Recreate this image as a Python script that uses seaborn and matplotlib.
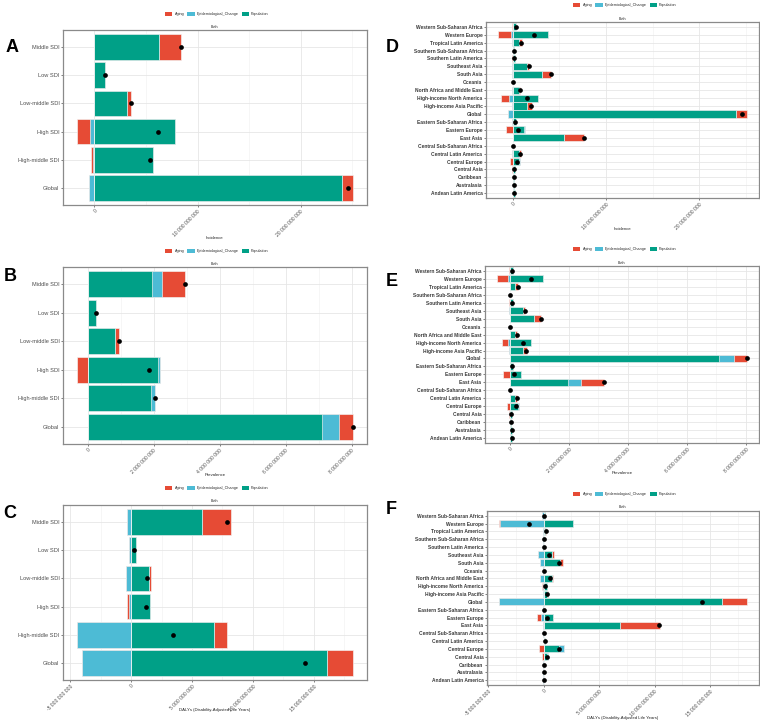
import numpy as np
import pandas as pd
import matplotlib
matplotlib.use("Agg")
import matplotlib.pyplot as plt
import seaborn as sns
from matplotlib.patches import Patch
from matplotlib.ticker import MultipleLocator, FuncFormatter

sns.set_theme(style="whitegrid")
plt.rcParams["font.family"] = ["Liberation Sans", "DejaVu Sans"]

UNIT = 1e9  # values below are given in billions

COMPONENTS = ["Aging", "Epidemiological_Change", "Population"]
COLORS = {"Aging": "#E64B35", "Epidemiological_Change": "#4DBBD5", "Population": "#00A087"}

# ---------------- categories (top to bottom) ----------------
SDI_LOCS = ["Middle SDI", "Low SDI", "Low-middle SDI", "High SDI", "High-middle SDI", "Global"]
REGIONS = ["Western Sub-Saharan Africa", "Western Europe", "Tropical Latin America",
           "Southern Sub-Saharan Africa", "Southern Latin America", "Southeast Asia",
           "South Asia", "Oceania", "North Africa and Middle East", "High-income North America",
           "High-income Asia Pacific", "Global", "Eastern Sub-Saharan Africa", "Eastern Europe",
           "East Asia", "Central Sub-Saharan Africa", "Central Latin America", "Central Europe",
           "Central Asia", "Caribbean", "Australasia", "Andean Latin America"]

# ---------------- A: Incidence, SDI ----------------
inc_sdi_pop = [6.23, 1.00, 3.13, 7.84, 5.68, 23.94]
inc_sdi_epi = [0.0, 0.0, 0.0, -0.39, -0.13, -0.55]
inc_sdi_aging = [2.16, 0.0, 0.45, -1.32, -0.16, 1.13]

# ---------------- B: Prevalence, SDI ----------------
prev_sdi_pop = [1.96, 0.26, 0.83, 2.13, 1.93, 7.11]
prev_sdi_epi = [0.30, 0.0, 0.0, 0.07, 0.10, 0.52]
prev_sdi_aging = [0.69, -0.005, 0.13, -0.33, 0.01, 0.42]

# ---------------- C: DALYs, SDI ----------------
daly_sdi_pop = [5.82, 0.44, 1.45, 1.58, 6.78, 16.07]
daly_sdi_epi = [-0.30, -0.16, -0.38, -0.19, -4.45, -3.99]
daly_sdi_aging = [2.38, 0.0, 0.22, -0.14, 1.12, 2.16]

# ---------------- D: Incidence, regions ----------------
inc_reg_pop = [0.39, 3.77, 0.71, 0.10, 0.25, 1.57, 3.13, 0.01, 0.64, 2.74, 1.57, 23.91,
               0.36, 1.25, 5.48, 0.08, 0.64, 0.71, 0.21, 0.12, 0.15, 0.20]
inc_reg_epi = [0.0, -0.21, -0.10, 0.0, 0.0, -0.04, -0.03, 0.0, -0.04, -0.43, -0.07, -0.53,
               -0.05, 0.05, 0.0, 0.0, -0.03, 0.07, 0.0, 0.0, 0.02, 0.0]
inc_reg_aging = [-0.06, -1.32, 0.28, 0.0, -0.07, 0.21, 0.96, 0.0, 0.18, -0.82, 0.46, 1.14,
                 -0.03, -0.75, 2.17, 0.0, 0.21, -0.28, -0.10, 0.02, 0.01, -0.02]

# ---------------- E: Prevalence, regions ----------------
prev_reg_pop = [0.10, 1.13, 0.19, 0.02, 0.09, 0.44, 0.81, 0.003, 0.18, 0.70, 0.43, 7.07,
                0.09, 0.37, 1.96, 0.02, 0.17, 0.26, 0.06, 0.05, 0.06, 0.06]
prev_reg_epi = [-0.01, -0.06, -0.01, 0.0, 0.0, -0.02, 0.0, 0.0, -0.01, -0.07, -0.02, 0.52,
                -0.01, 0.01, 0.44, 0.0, -0.01, 0.04, 0.0, -0.01, 0.0, 0.0]
prev_reg_aging = [-0.01, -0.36, 0.08, 0.0, -0.02, 0.08, 0.24, 0.0, 0.06, -0.20, 0.15, 0.43,
                  0.0, -0.24, 0.80, 0.0, 0.07, -0.08, -0.02, 0.0, 0.0, 0.0]

# ---------------- F: DALYs, regions ----------------
daly_reg_pop = [0.15, 2.66, 0.15, 0.03, 0.03, 0.75, 1.44, 0.01, 0.72, 0.27, 0.33, 16.11,
                0.05, 0.87, 6.86, 0.01, 0.15, 1.41, 0.33, 0.06, 0.03, 0.03]
daly_reg_epi = [-0.15, -3.89, -0.03, -0.03, -0.03, -0.48, -0.33, -0.01, -0.33, -0.09, -0.09, -3.98,
                -0.05, -0.27, -0.09, -0.01, 0.0, 0.39, 0.06, -0.03, -0.03, -0.03]
daly_reg_aging = [0.0, -0.09, 0.09, 0.0, 0.0, 0.21, 0.27, 0.0, 0.15, -0.06, 0.06, 2.19,
                  0.0, -0.33, 3.65, 0.0, 0.0, -0.42, -0.12, 0.0, 0.0, 0.0]

X_LABELS = {"inc": "Incidence", "prev": "Prevalence", "daly": "DALYs (Disability-Adjusted Life Years)"}

W, H = 760, 721
fig = plt.figure(figsize=(W / 100, H / 100), dpi=100)


def fmt(v, _):
    return f"{v:,.0f}".replace(",", " ")


def legend_x(x0):
    return 217 if x0 < 380 else 625


def panel(rect_px, letter, letter_xy, locs, pop, epi, aging, xlabel, step, legend_y, label_y,
          region=False):
    x0, y0, x1, y1 = rect_px
    ax = fig.add_axes([x0 / W, 1 - y1 / H, (x1 - x0) / W, (y1 - y0) / H])
    vals = {"Population": np.asarray(pop, float),
            "Epidemiological_Change": np.asarray(epi, float),
            "Aging": np.asarray(aging, float)}
    stack_order = ["Population", "Epidemiological_Change", "Aging"]
    cum_pos = np.cumsum([np.clip(vals[k], 0, None) for k in stack_order], axis=0)
    cum_neg = np.cumsum([np.clip(vals[k], None, 0) for k in stack_order], axis=0)
    total = sum(vals[k] for k in stack_order)

    # draw outermost cumulative bars first so inner segments sit on top
    for i in [2, 1, 0]:
        name = stack_order[i]
        for cum in (cum_pos[i], cum_neg[i]):
            df = pd.DataFrame({"location": locs, "value": cum * UNIT})
            sns.barplot(data=df, x="value", y="location", order=locs, orient="h",
                        color=COLORS[name], saturation=1, width=0.9, errorbar=None,
                        edgecolor="#f4f4f4", linewidth=0.45, ax=ax)
    dft = pd.DataFrame({"location": locs, "total": total * UNIT})
    sns.pointplot(data=dft, x="total", y="location", order=locs, orient="h", color="black",
                  errorbar=None, linestyle="none", markersize=3.4, markeredgewidth=0,
                  zorder=5, ax=ax)

    lo = min(cum_neg.min(), total.min(), 0)
    hi = max(cum_pos.max(), total.max(), 0)
    pad = 0.05 * (hi - lo)
    ax.set_xlim((lo - pad) * UNIT, (hi + pad) * UNIT)
    n = len(locs)
    ax.set_ylim(n - 0.4, -0.6)

    ax.xaxis.set_major_locator(MultipleLocator(step * UNIT))
    ax.xaxis.set_minor_locator(MultipleLocator(step / 2 * UNIT))
    ax.xaxis.set_major_formatter(FuncFormatter(fmt))
    ax.set_axisbelow(True)
    ax.grid(True, which="major", color="#e6e6e6", linewidth=0.6)
    ax.xaxis.grid(True, which="minor", color="#efefef", linewidth=0.4)
    ax.yaxis.grid(True, which="major", color="#e6e6e6", linewidth=0.6)
    for s in ax.spines.values():
        s.set_visible(True)
        s.set_color("#8a8a8a")
        s.set_linewidth(0.9)
    ax.tick_params(axis="both", which="major", bottom=True, left=True, length=1.6,
                   width=0.5, color="#4d4d4d", pad=1)
    ax.tick_params(axis="both", which="minor", length=0)
    ax.set_xlabel("")
    ax.set_ylabel("")
    for t in ax.get_xticklabels():
        t.set_rotation(45)
        t.set_ha("right")
        t.set_rotation_mode("anchor")
        t.set_fontsize(3.6)
        t.set_color("#4d4d4d")
    for t in ax.get_yticklabels():
        if region:
            t.set_fontsize(3.5)
            t.set_fontweight("bold")
            t.set_color("#3a3a3a")
        else:
            t.set_fontsize(4.1)
            t.set_color("#4d4d4d")

    cx = (x0 + x1) / 2
    fig.text(cx / W, 1 - (y0 - 3.5) / H, "Both", ha="center", va="center", fontsize=2.7,
             color="#333333")
    fig.text(cx / W, 1 - label_y / H, xlabel, ha="center", va="center", fontsize=3.1,
             color="#222222")
    handles = [Patch(facecolor=COLORS[c], edgecolor="none") for c in COMPONENTS]
    fig.legend(handles, COMPONENTS, loc="center",
               bbox_to_anchor=(legend_x(x0) / W, 1 - legend_y / H),
               ncol=3, frameon=False, fontsize=2.7, handlelength=1.9, handleheight=1.6,
               handletextpad=0.6, columnspacing=0.8, borderpad=0)
    fig.text(letter_xy[0] / W, 1 - letter_xy[1] / H, letter, ha="center", va="center",
             fontsize=13, fontweight="bold", color="black")
    return ax


panel((63, 30, 367, 205), "A", (12, 48), SDI_LOCS, inc_sdi_pop, inc_sdi_epi, inc_sdi_aging,
      X_LABELS["inc"], 10, 14, 238)
panel((63, 267, 367, 444), "B", (10, 276), SDI_LOCS, prev_sdi_pop, prev_sdi_epi, prev_sdi_aging,
      X_LABELS["prev"], 2, 251, 475)
panel((63, 505, 367, 680), "C", (10, 514), SDI_LOCS, daly_sdi_pop, daly_sdi_epi, daly_sdi_aging,
      X_LABELS["daly"], 5, 488, 710)
panel((486, 22, 759, 198), "D", (392, 48), REGIONS, inc_reg_pop, inc_reg_epi, inc_reg_aging,
      X_LABELS["inc"], 10, 5, 229, region=True)
panel((485, 266, 759, 443), "E", (392, 281), REGIONS, prev_reg_pop, prev_reg_epi, prev_reg_aging,
      X_LABELS["prev"], 2, 249, 473, region=True)
panel((487, 511, 759, 685), "F", (391, 510), REGIONS, daly_reg_pop, daly_reg_epi, daly_reg_aging,
      X_LABELS["daly"], 5, 494, 718, region=True)

fig.savefig("out.png", dpi=100, facecolor="white")
